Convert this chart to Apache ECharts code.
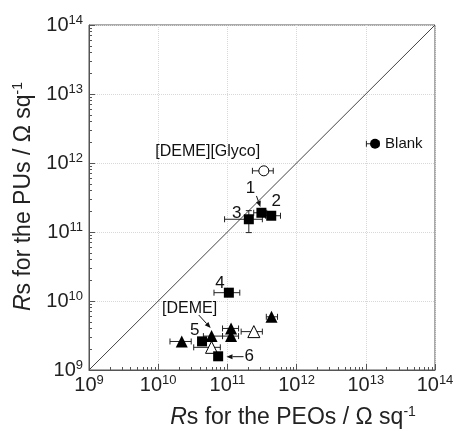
<!DOCTYPE html>
<html>
<head>
<meta charset="utf-8">
<script src="https://cdn.jsdelivr.net/npm/echarts@6/dist/echarts.min.js"></script>
<style>
  html, body { margin: 0; padding: 0; background: #fff; }
  #chart { width: 457px; height: 431px; }
</style>
</head>
<body>
<div id="chart"></div>
<script>
// filled squares (samples 1-6)
const sqX = [3.1e11, 4.3e11, 2.04e11, 1.05e11, 4.3e10, 7.35e10]
const sqY = [1.9e11, 1.72e11, 1.53e11, 1.32e10, 2.6e9, 1.58e9]
// filled triangles
const triX = [4.34e11, 1.13e11, 1.13e11, 2.19e10, 5.9e10]
const triY = [5.9e9, 4.0e9, 3.1e9, 2.59e9, 3.1e9]
// open triangles
const otriX = [2.41e11, 5.9e10]
const otriY = [3.6e9, 2.13e9]
// blank (filled circle) and [DEME][Glyco] (open circle)
const blankX = [1.36e13]
const blankY = [1.9e12]
const glycoX = [3.36e11]
const glycoY = [7.7e11]

// error bars: centre, x range, y range (same as centre when none)
const errX = [1.36e13, 3.36e11, 3.1e11, 4.3e11, 2.04e11, 1.05e11, 4.34e11, 1.13e11, 1.13e11, 2.19e10, 5.9e10, 2.41e11, 5.9e10]
const errY = [1.9e12, 7.7e11, 1.9e11, 1.72e11, 1.53e11, 1.32e10, 5.9e9, 4.0e9, 3.1e9, 2.59e9, 3.1e9, 3.6e9, 2.13e9]
const errXlo = [1.02e13, 2.3e11, 2.4e11, 3.55e11, 9.1e10, 6.4e10, 3.65e11, 8.5e10, 8.5e10, 1.48e10, 4.5e10, 1.58e11, 3.26e10]
const errXhi = [1.55e13, 4.6e11, 3.7e11, 5.85e11, 3.2e11, 1.51e11, 5.3e11, 1.45e11, 1.45e11, 3.0e10, 8.5e10, 3.2e11, 7.9e10]
const errYlo = [1.9e12, 7.7e11, 1.9e11, 1.72e11, 9.8e10, 1.32e10, 5.9e9, 4.0e9, 3.1e9, 2.59e9, 3.1e9, 3.6e9, 2.13e9]
const errYhi = [1.9e12, 7.7e11, 1.9e11, 1.72e11, 2.04e11, 1.32e10, 5.9e9, 4.0e9, 3.1e9, 2.59e9, 3.1e9, 3.6e9, 2.13e9]

// text notes
const noteText = ['[DEME][Glyco]', '1', '2', '3', '4', '[DEME]', '5', '6']
const noteX = [5.2e10, 2.16e11, 5.07e11, 1.36e11, 7.8e10, 2.85e10, 3.37e10, 2.06e11]
const noteY = [1.44e12, 4.35e11, 2.75e11, 1.87e11, 1.81e10, 7.66e9, 3.8e9, 1.56e9]

// arrows (from -> to)
const arrFromX = [2.63e11, 3.85e10, 1.71e11]
const arrFromY = [3.33e11, 6.27e9, 1.56e9]
const arrToX = [3.0e11, 5.73e10, 9.7e10]
const arrToY = [2.3e11, 4.06e9, 1.56e9]

// diagonal y = x
const diagX = [1e9, 1e14]

// minor ticks 2..9 per decade
const minorTicks = []
for (let e = 9; e < 14; e++) {
  for (let m = 2; m <= 9; m++) {
    minorTicks.push(m * Math.pow(10, e))
  }
}

const font = "'Liberation Sans', Arial, sans-serif"
const ink = '#000'
const axisColor = '#555'

const zip = (a, b) => a.map((v, i) => [v, b[i]])

const expLabel = function(v) {
  const e = Math.round(Math.log10(v))
  return '{b|10}{s|' + e + '}'
}
const tickRich = {
  b: { fontSize: 20, fontFamily: font, color: '#222', lineHeight: 22 },
  s: { fontSize: 13, fontFamily: font, color: '#222', lineHeight: 13, verticalAlign: 'top' }
}
const nameRich = {
  i: { fontSize: 23, fontFamily: font, color: '#222', fontStyle: 'italic', lineHeight: 25 },
  n: { fontSize: 23, fontFamily: font, color: '#222', lineHeight: 25 },
  s: { fontSize: 14, fontFamily: font, color: '#222', lineHeight: 14, verticalAlign: 'top' }
}

function mainAxis(name, isY) {
  return {
    type: 'log',
    logBase: 10,
    min: 1e9,
    max: 1e14,
    splitNumber: 5,
    position: isY ? 'left' : 'bottom',
    name: name,
    nameLocation: 'middle',
    nameGap: isY ? 49 : 35,
    nameRotate: isY ? 90 : 0,
    nameTextStyle: {
      rich: nameRich,
      padding: isY ? [0, 0, 0, 2] : [0, 0, 0, 62]
    },
    axisLine: { show: true, lineStyle: { color: axisColor, width: 1 } },
    axisTick: { show: true, inside: true, length: 6, lineStyle: { color: axisColor } },
    minorTick: { show: false },
    axisLabel: {
      formatter: expLabel,
      rich: tickRich,
      margin: isY ? 6 : 4
    },
    splitLine: { show: true, lineStyle: { color: '#d8d8d8', type: 'dotted', width: 1 } }
  }
}

function minorAxis(isY) {
  return {
    type: 'log',
    logBase: 10,
    min: 1e9,
    max: 1e14,
    position: isY ? 'left' : 'bottom',
    axisLine: { show: false },
    axisTick: { show: true, inside: true, length: 3, customValues: minorTicks, lineStyle: { color: axisColor } },
    axisLabel: { show: false },
    splitLine: { show: false }
  }
}

const chart = echarts.init(document.getElementById('chart'))

const opt = {
  backgroundColor: '#fff',
  animation: false,
  grid: {
    left: 89,
    right: 22,
    top: 25,
    bottom: 61,
    outerBoundsMode: 'none',
    show: true,
    borderColor: axisColor,
    borderWidth: 1
  },
  xAxis: [
    mainAxis('{i|R}{n|s for the PEOs / Ω sq}{s|-1}', false),
    minorAxis(false)
  ],
  yAxis: [
    mainAxis('{i|R}{n|s for the PUs / Ω sq}{s|-1}', true),
    minorAxis(true)
  ],
  series: [
    {
      type: 'line',
      data: zip(diagX, diagX),
      symbol: 'none',
      lineStyle: { color: '#444', width: 1 },
      z: 1
    },
    {
      type: 'custom',
      z: 2,
      data: errX.map((x, i) => [x, errY[i], errXlo[i], errXhi[i], errYlo[i], errYhi[i]]),
      encode: { x: 0, y: 1 },
      renderItem(params, api) {
        const x = api.value(0)
        const y = api.value(1)
        const children = []
        const st = { stroke: '#222', lineWidth: 1 }
        const cap = 3
        if (api.value(2) !== api.value(3)) {
          const lo = api.coord([api.value(2), y])
          const hi = api.coord([api.value(3), y])
          children.push({ type: 'line', shape: { x1: lo[0], y1: lo[1], x2: hi[0], y2: hi[1] }, style: st })
          children.push({ type: 'line', shape: { x1: lo[0], y1: lo[1] - cap, x2: lo[0], y2: lo[1] + cap }, style: st })
          children.push({ type: 'line', shape: { x1: hi[0], y1: hi[1] - cap, x2: hi[0], y2: hi[1] + cap }, style: st })
        }
        if (api.value(4) !== api.value(5)) {
          const lo = api.coord([x, api.value(4)])
          const hi = api.coord([x, api.value(5)])
          children.push({ type: 'line', shape: { x1: lo[0], y1: lo[1], x2: hi[0], y2: hi[1] }, style: st })
          children.push({ type: 'line', shape: { x1: lo[0] - cap, y1: lo[1], x2: lo[0] + cap, y2: lo[1] }, style: st })
          children.push({ type: 'line', shape: { x1: hi[0] - cap, y1: hi[1], x2: hi[0] + cap, y2: hi[1] }, style: st })
        }
        return { type: 'group', children: children }
      }
    },
    {
      type: 'scatter',
      data: zip(otriX, otriY),
      symbol: 'triangle',
      symbolSize: 12,
      itemStyle: { color: '#fff', borderColor: ink, borderWidth: 1, opacity: 1 },
      z: 3
    },
    {
      type: 'scatter',
      data: zip(triX, triY),
      symbol: 'triangle',
      symbolSize: 12,
      itemStyle: { color: ink, opacity: 1 },
      z: 4
    },
    {
      type: 'scatter',
      data: zip(sqX, sqY),
      symbol: 'rect',
      symbolSize: 10,
      itemStyle: { color: ink, opacity: 1 },
      z: 4
    },
    {
      type: 'scatter',
      data: zip(glycoX, glycoY),
      symbol: 'circle',
      symbolSize: 10,
      itemStyle: { color: '#fff', borderColor: ink, borderWidth: 1, opacity: 1 },
      z: 4
    },
    {
      type: 'scatter',
      data: zip(blankX, blankY),
      symbol: 'circle',
      symbolSize: 10,
      itemStyle: { color: ink, opacity: 1 },
      label: {
        show: true,
        position: 'right',
        distance: 5,
        formatter: 'Blank',
        fontSize: 15,
        fontFamily: font,
        color: '#111'
      },
      z: 4
    },
    {
      type: 'custom',
      z: 5,
      data: noteX.map((x, i) => [x, noteY[i], i]),
      encode: { x: 0, y: 1 },
      renderItem(params, api) {
        const p = api.coord([api.value(0), api.value(1)])
        const t = noteText[api.value(2)]
        return {
          type: 'text',
          x: p[0],
          y: p[1],
          style: {
            text: t,
            fontSize: t.length > 1 ? 16 : 17,
            fontFamily: font,
            fill: '#111',
            align: 'center',
            verticalAlign: 'middle'
          }
        }
      }
    },
    {
      type: 'custom',
      z: 5,
      data: arrFromX.map((x, i) => [x, arrFromY[i], arrToX[i], arrToY[i]]),
      encode: { x: 0, y: 1 },
      renderItem(params, api) {
        const a = api.coord([api.value(0), api.value(1)])
        const b = api.coord([api.value(2), api.value(3)])
        const ang = Math.atan2(b[1] - a[1], b[0] - a[0])
        const hl = 6
        const hw = 2.5
        const bx = b[0] - hl * Math.cos(ang)
        const by = b[1] - hl * Math.sin(ang)
        const nx = -Math.sin(ang) * hw
        const ny = Math.cos(ang) * hw
        return {
          type: 'group',
          children: [
            { type: 'line', shape: { x1: a[0], y1: a[1], x2: bx, y2: by }, style: { stroke: '#111', lineWidth: 1 } },
            { type: 'polygon', shape: { points: [[b[0], b[1]], [bx + nx, by + ny], [bx - nx, by - ny]] }, style: { fill: '#111' } }
          ]
        }
      }
    }
  ]
}

chart.setOption(opt)
</script>
</body>
</html>
